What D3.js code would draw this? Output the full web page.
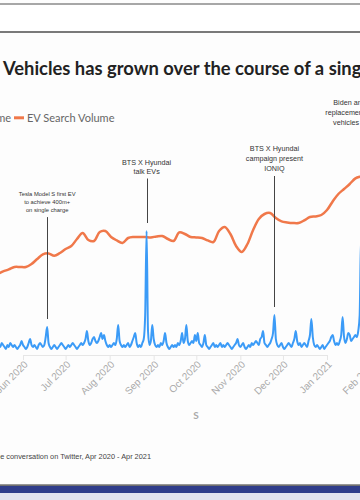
<!DOCTYPE html>
<html><head><meta charset="utf-8">
<script src="https://cdn.jsdelivr.net/npm/d3@7"></script>
<style>html,body{margin:0;padding:0;background:#fff;overflow:hidden}svg{display:block}</style>
</head><body><svg id="c" width="360" height="500"></svg>
<script>
// ---------- data ----------
const conversationStart = "2020-05-14"; // daily values
const conversationVolume = [
 4,5,4,6,5,4,3,5,4,6,
 5,4,5,4,3,4,5,7,5,4,
 3,4,6,8,5,4,5,4,3,5,
 6,5,4,5,9,14,6,4,3,4,
 5,4,3,4,5,6,5,4,3,4,
 5,4,5,6,5,4,3,4,5,6,
 5,6,8,12,7,5,6,8,9,7,
 6,7,9,11,8,10,7,5,4,5,
 4,5,6,5,8,15,7,5,4,5,
 4,5,6,4,5,7,9,11,6,4,
 5,4,6,8,20,62,12,5,7,15,
 8,5,4,5,4,6,5,7,11,6,
 4,3,4,5,4,5,4,6,5,7,
 11,6,8,15,7,5,6,7,6,10,
 7,11,6,5,4,6,10,5,4,3,
 4,5,6,4,5,4,5,6,4,5,
 4,5,6,5,4,3,4,5,6,8,
 5,4,5,6,4,3,4,5,4,6,
 5,6,7,6,5,8,9,12,6,5,
 4,5,6,8,11,20,8,5,4,5,
 6,4,3,4,5,6,5,4,6,8,
 12,7,5,6,4,5,6,5,4,7,
 10,18,9,5,4,5,4,3,4,5,
 3,4,5,6,7,9,10,7,5,6,
 5,7,10,19,9,6,8,11,10,7,
 8,9,10,9,12,20,60,45,30,20
];
const searchStart = "2020-05-14"; // one value every 4 days
const searchStepDays = 4;
const searchVolume = [40.5,41.8,42.8,44,44,44,45.5,48,50.3,50.8,49.6,51,53,54.5,58,61,57.5,57,61.5,62,
 59,57.3,56,58.5,59,59,59,58.8,59.3,59.5,58,57,61.3,60.5,59,58.8,58.5,57.3,56.5,62,
 64,60.5,54.5,51.5,55.5,62.5,68,70.5,71,68.5,66.8,66.3,66,66,67.3,69,69.3,70,72.5,76.8,
 80.5,83,85.5,88.3,89.3,90];
const monthTicks = ["2020-06-01","2020-07-01","2020-08-01","2020-09-01","2020-10-01","2020-11-01","2020-12-01","2021-01-01","2021-02-01"];
const annotationDates = ["2020-06-18","2020-08-27","2020-11-25","2021-01-25"];
const annotationTexts = [
 ["Tesla Model S first EV","to achieve 400m+","on single charge"],
 ["BTS X Hyundai","talk EVs"],
 ["BTS X Hyundai","campaign present","IONIQ"],
 ["Biden announces","replacement of federal","vehicles with EVs"]
];
const seriesNames = ["Conversation Volume","EV Search Volume"];
const titleText = "Vehicles has grown over the course of a single year";
const footerText = "the conversation on Twitter, Apr 2020 - Apr 2021";
const axisTitle = "S";

// ---------- layout ----------
const annFirstBaseline = [195.5,164.5,151,104.5];
const annFont = [5.8,7.2,7.2,7.2];
const annGap = [8.3,9,10,10];

const parse = d3.timeParse("%Y-%m-%d");
const svg = d3.select("#c");
const x = d3.scaleTime().domain([parse("2020-06-01"), parse("2021-01-01")]).range([23,327]);
const y = d3.scaleLinear().domain([0,100]).range([355,155]);

const convData = conversationVolume.map((v,i)=>({date:d3.timeDay.offset(parse(conversationStart),i), v}));
const searchData = searchVolume.map((v,i)=>({date:d3.timeDay.offset(parse(searchStart),i*searchStepDays), v}));

// frame
svg.append("rect").attr("x",0).attr("y",0).attr("width",360).attr("height",500).attr("fill","#fdfdfd");
svg.append("rect").attr("x",0).attr("y",4.5).attr("width",360).attr("height",27).attr("fill","#fff");
svg.append("line").attr("x1",0).attr("x2",360).attr("y1",4).attr("y2",4).attr("stroke","#8a8a8a").attr("stroke-width",1.5);
svg.append("line").attr("x1",0).attr("x2",360).attr("y1",32).attr("y2",32).attr("stroke","#7a7a7a").attr("stroke-width",2);
svg.append("rect").attr("x",0).attr("y",484.5).attr("width",360).attr("height",1.2).attr("fill","#333");
svg.append("rect").attr("x",0).attr("y",486).attr("width",360).attr("height",7).attr("fill","#2f3d8a");
svg.append("rect").attr("x",0).attr("y",493).attr("width",360).attr("height",7).attr("fill","#e2e3ee");

// title
const title = svg.append("text").attr("x",3).attr("y",74.5)
  .attr("font-family","Lato, sans-serif").attr("font-weight",700).attr("fill","#222").attr("font-size",16)
  .text("Vehicles has grown over the course of a sin");
const tw = title.node().getComputedTextLength();
title.attr("font-size", 16*349/tw).text(titleText);

// legend
svg.append("text").attr("x",11).attr("y",122.3).attr("text-anchor","end")
  .attr("font-family","Lato, sans-serif").attr("font-size",11).attr("fill","#666").text(seriesNames[0]);
svg.append("line").attr("x1",14).attr("x2",24).attr("y1",117.8).attr("y2",117.8).attr("stroke","#f0784a").attr("stroke-width",3);
svg.append("text").attr("x",27).attr("y",122.3)
  .attr("font-family","Lato, sans-serif").attr("font-size",11).attr("fill","#666").text(seriesNames[1]);

// axis
const ax = svg.append("g").attr("transform","translate(0,355)")
  .call(d3.axisBottom(x).tickValues(monthTicks.map(parse)).tickFormat(d3.timeFormat("%b %Y")).tickSize(5).tickSizeOuter(0));
ax.select(".domain").attr("stroke","#e6e6e6");
ax.selectAll(".tick line").attr("stroke","#e6e6e6");
ax.selectAll(".tick text").attr("x",0).attr("y",0).attr("dy",0)
  .attr("text-anchor","end").attr("transform","translate(5,10) rotate(-45)")
  .attr("font-family","Liberation Sans, Arial, sans-serif").attr("font-size",10).attr("fill","#aaa");

// lines
svg.append("path").datum(searchData).attr("fill","none").attr("stroke","#f0784a").attr("stroke-width",2.5)
  .attr("stroke-linejoin","round").attr("stroke-linecap","round")
  .attr("d", d3.line().x(d=>x(d.date)).y(d=>y(d.v)).curve(d3.curveCatmullRom.alpha(0.5)));
svg.append("path").datum(convData).attr("fill","none").attr("stroke","#3b9bf7").attr("stroke-width",2)
  .attr("stroke-linejoin","round")
  .attr("d", d3.line().x(d=>x(d.date)).y(d=>y(d.v)).curve(d3.curveMonotoneX));

// annotations
annotationDates.forEach((ds,k)=>{
  const dt = parse(ds);
  const xi = Math.round(x(dt))+0.5;
  const idx = d3.timeDay.count(parse(conversationStart), dt);
  const peak = y(conversationVolume[idx]);
  const lines = annotationTexts[k];
  const lastBase = annFirstBaseline[k] + annGap[k]*(lines.length-1);
  svg.append("line").attr("x1",xi).attr("x2",xi).attr("y1",lastBase+5).attr("y2",peak-8)
    .attr("stroke","#444").attr("stroke-width",1);
  const t = svg.append("text").attr("text-anchor","middle")
    .attr("font-family","Liberation Sans, Arial, sans-serif").attr("font-size",annFont[k]).attr("fill","#333");
  lines.forEach((l,j)=>t.append("tspan").attr("x",x(dt)).attr("y",annFirstBaseline[k]+annGap[k]*j).text(l));
});

// axis title & footer
svg.append("text").attr("x",196).attr("y",419).attr("text-anchor","middle")
  .attr("font-family","Lato, sans-serif").attr("font-weight",700).attr("font-size",10).attr("fill","#aaa").text(axisTitle);
const foot = svg.append("text").attr("x",151).attr("y",458.5).attr("text-anchor","end")
  .attr("font-family","Liberation Sans, Arial, sans-serif").attr("font-size",7.3).attr("fill","#444")
  .text(footerText.slice(2));
const fw = foot.node().getComputedTextLength();
foot.attr("font-size", 7.3*151/fw).text(footerText);
</script></body></html>
